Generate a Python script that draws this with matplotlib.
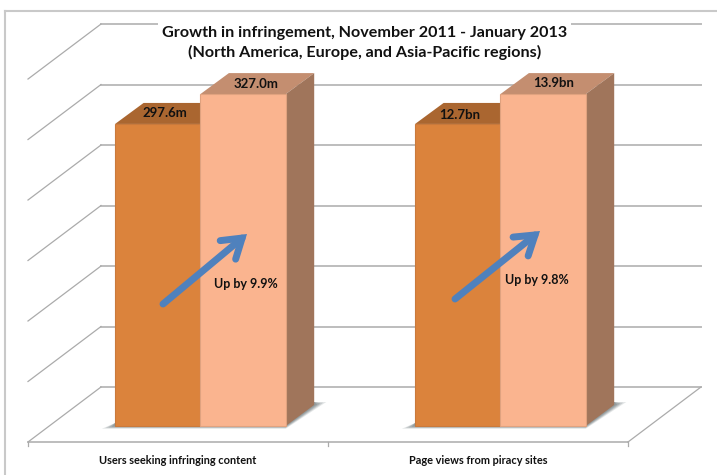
import matplotlib
matplotlib.use('Agg')
import matplotlib.pyplot as plt
from matplotlib.patches import Polygon

# Data
categories = ['Users seeking infringing content', 'Page views from piracy sites']
before = [297.6, 297.6]  # second group is drawn to the same height as the first
after = [327.0, 327.0]
before_labels = ['297.6m', '12.7bn']
after_labels = ['327.0m', '13.9bn']
growth_labels = ['Up by 9.9%', 'Up by 9.8%']
wall_ticks = [0, 59.6, 119.2, 178.8, 238.4, 298, 357.6]

# Colours
ORANGE = '#db833c'
ORANGE_TOP = '#aa6630'
PEACH = '#fab48f'
PEACH_TOP = '#c48e70'
PEACH_SIDE = '#a0755b'
BLUE = '#4f81bd'
GRID = '#bdbdbd'
DIAG = '#ababab'

# 3D offsets, in data units (1 category = 300 px, 1 y unit = 1.015 px)
W, H = 717, 475
XU, YU = 300.0, 1.015
bar_w = 85.3 / XU
bar_shift = 22.4 / XU
bar_dx, bar_dy = 28.5 / XU, 21 / YU
wall_base = 39 / YU          # back wall zero above bar base
floor_base = -16 / YU        # front floor line below bar base
wall_dx, wall_dy = 73 / XU, 55 / YU

# Label nudges per group, px
before_nudge = [(50, 11), (45, 9)]
after_nudge = [(56, 10.5), (53.6, 11.5)]

plt.rcParams['font.family'] = 'Lato'
fig = plt.figure(figsize=(W / 100, H / 100), dpi=100)
ax = fig.add_axes([0, 0, 1, 1])
ax.set_xlim(-0.5 - 28 / XU, 1.5 + 89 / XU)
ax.set_ylim(-(H - 426) / YU, 426 / YU)
ax.axis('off')

x0, x1 = -0.5, 1.5

# Outer frame of the chart area
ax.plot([ax.get_xlim()[0] + 5 / XU] * 2, [ax.get_ylim()[0], 415 / YU], color='#c9c9c9', lw=1.5)
ax.plot([ax.get_xlim()[0] + 5 / XU, ax.get_xlim()[1]], [415 / YU] * 2, color='#c9c9c9', lw=1.5)

# Back wall grid with the diagonals on the left
for t in wall_ticks:
    y = wall_base + t
    ax.plot([x0 + wall_dx, x1 + wall_dx], [y, y], color=GRID, lw=1.4, zorder=1)
    ax.plot([x0, x0 + wall_dx], [y - wall_dy, y], color=DIAG, lw=0.9, zorder=1)

# Floor
ax.plot([x0, x1], [floor_base, floor_base], color=DIAG, lw=1.1, zorder=1)
ax.plot([x1, x1 + wall_dx], [floor_base, floor_base + wall_dy], color=DIAG, lw=0.9, zorder=1)
for i in [0, 1, 2]:
    ax.plot([x0 + i] * 2, [floor_base, floor_base - 4 / YU], color=DIAG, lw=0.9, zorder=1)

for i in range(2):
    c = i + bar_shift
    left = c - bar_w
    right = c + bar_w

    # Soft shadow on the floor
    for grow, alpha in [(1.0, 0.2), (0.75, 0.3), (0.5, 0.4), (0.25, 0.5)]:
        g = grow * 11
        ax.add_patch(Polygon([
            (left - g * 1.2 / XU, -g * 0.25 / YU), (right, -g * 0.25 / YU),
            (right + bar_dx + g * 1.1 / XU, bar_dy + 3 * grow / YU),
            (right + bar_dx, bar_dy + 3 / YU), (right, 2 / YU), (left, 3 / YU)],
            closed=True, fc='#7f8a8c', ec='none', alpha=alpha, zorder=2))

    # Front faces
    ax.bar(c - bar_w / 2, before[i], bar_w, color=ORANGE, edgecolor='#c97a3c', lw=0.8, zorder=4)
    ax.bar(c + bar_w / 2, after[i], bar_w, color=PEACH, edgecolor='#e0a27f', lw=0.8, zorder=5)

    # Top and side faces
    ax.add_patch(Polygon([
        (left, before[i]), (c, before[i]), (c + bar_dx, before[i] + bar_dy),
        (left + bar_dx, before[i] + bar_dy)], closed=True, fc=ORANGE_TOP, ec='none', zorder=3))
    ax.add_patch(Polygon([
        (c, after[i]), (right, after[i]), (right + bar_dx, after[i] + bar_dy),
        (c + bar_dx, after[i] + bar_dy)], closed=True, fc=PEACH_TOP, ec='none', zorder=3))
    ax.add_patch(Polygon([
        (right, 0), (right + bar_dx, bar_dy), (right + bar_dx, after[i] + bar_dy),
        (right, after[i])], closed=True, fc=PEACH_SIDE, ec='none', zorder=3))

    # Value labels on the top faces
    ax.text(left + before_nudge[i][0] / XU, before[i] + before_nudge[i][1] / YU, before_labels[i],
            ha='center', va='center', fontsize=9.5, fontweight='bold', color='#111111', zorder=6)
    ax.text(c + after_nudge[i][0] / XU, after[i] + after_nudge[i][1] / YU, after_labels[i],
            ha='center', va='center', fontsize=9.5, fontweight='bold', color='#111111', zorder=6)

    # Category label
    ax.text(i, -35 / YU, categories[i], ha='center', va='center', fontsize=7.95,
            fontweight='bold', color='#111111')

# Growth arrows and their labels
arrow_tails = [(-15 / XU, 122 / YU), (277 / XU, 127 / YU)]
arrow_tips = [(69 / XU, 192 / YU), (362 / XU, 195 / YU)]
text_pos = [(68 / XU, 142 / YU), (359 / XU, 146 / YU)]
for i in range(2):
    ax.annotate('', xy=arrow_tips[i], xytext=arrow_tails[i], zorder=7,
                arrowprops=dict(arrowstyle='->,head_length=0.95,head_width=0.62', color=BLUE,
                                lw=5, shrinkA=0, shrinkB=0, capstyle='round', joinstyle='miter',
                                mutation_scale=14))
    ax.text(text_pos[i][0], text_pos[i][1], growth_labels[i], ha='center', va='center',
            fontsize=9, fontweight='bold', color='#111111', zorder=8)

# Title with a white box hiding the top grid line
ax.text(186.5 / XU, 383 / YU, 'Growth in infringement, November 2011 - January 2013\n'
        '(North America, Europe, and Asia-Pacific regions)', ha='center', va='center',
        fontsize=11.65, fontweight='bold', color='#111111', linespacing=1.4, zorder=9,
        bbox=dict(facecolor='white', edgecolor='none', pad=3))

fig.savefig('out.png', dpi=100)
